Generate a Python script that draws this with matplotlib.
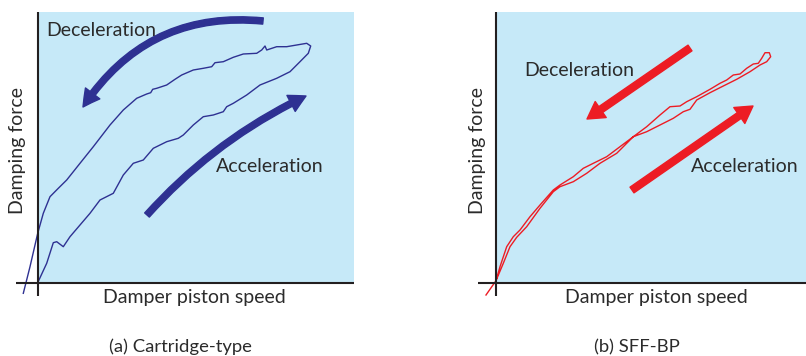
import matplotlib
matplotlib.use("Agg")
import matplotlib.pyplot as plt
from matplotlib.patches import FancyArrowPatch

# ---- data (pixel-like units relative to origin) ----
cart_x = [-14.2, -7.5, 0.2, 5.8, 12.5, 20.8, 29.2, 42.5, 55.8, 72.5, 85.8, 99.2, 109.2, 113.2, 115.2,
          119.2, 129.2, 137.5, 144.2, 155.8, 165.8, 174.2, 177.5, 185.8, 195.8, 205.8, 219.2, 224.2,
          227.5, 229.2, 239.2, 249.2, 259.2, 269.2, 273.2,
          270.8, 262.5, 252.5, 239.2, 222.5, 209.2, 195.8, 189.2, 185.8, 175.8, 165.8, 155.8, 145.8,
          140.8, 129.2, 115.8, 105.8, 95.8, 85.8, 75.8, 62.5, 52.5, 42.5, 32.5, 25.8, 19.2, 15.8, 9.2, 0.2]
cart_y = [-10.3, 16.3, 49.7, 69.7, 86.3, 94.7, 103, 119.7, 136.3, 158, 173, 184.7, 189, 190.3, 193.7,
          194.7, 198, 203.7, 208, 213, 214.7, 216.3, 220.3, 221.3, 225.7, 229, 229.7, 233,
          237, 233, 236.3, 236.3, 238, 239.7, 237,
          229.7, 221.3, 211.3, 204.7, 198, 188, 179.7, 176.3, 171.3, 168, 166.3, 158, 148,
          144.7, 141.3, 134.7, 123, 119.7, 108, 89.7, 83, 69.7, 58, 46.3, 36.3, 41.3, 40.3, 19.7, 0.3]

sff_x = [-10, 0, 7.3, 14, 20.7, 30.7, 44, 57.3, 64, 77.3, 90.7, 104, 120.7, 137.3, 150.7, 164, 177.3,
         187.3, 194, 200.7, 214, 227.3, 240.7, 254, 264, 270.7, 274.7, 273.3, 269, 265.7, 262.3,
         257.3, 250.7, 244, 237.3, 230.7, 224, 214, 200.7, 190.7, 184, 174, 164, 150.7, 137.3, 124,
         110.7, 97.3, 87.3, 77.3, 64, 57.3, 44, 34, 24, 17.3, 10.7, 4, 0]
sff_y = [-12, 2.3, 19.7, 36.3, 45.7, 56.3, 74.7, 91.3, 96.3, 101.3, 109.7, 119.7, 129.7, 146.3, 151.3,
         158, 164.7, 171.3, 173.7, 183, 190.3, 197, 203.7, 211.3, 218, 221.3, 226.3, 230.3, 230.3,
         224.7, 219.7, 219, 214.7, 209, 208, 203, 199.7, 193.7, 186.3, 181.3, 177, 176.3, 168, 156.3,
         146.3, 136.3, 126.3, 119.7, 114.7, 106.3, 98, 93, 78, 66.3, 53, 46.3, 36.3, 16.3, 2.3]

x_label = "Damper piston speed"
y_label = "Damping force"
captions = ["(a) Cartridge-type", "(b) SFF-BP"]
arrow_labels = ["Deceleration", "Acceleration"]

NAVY = "#2e3192"
RED = "#ed1c24"
BG = "#c6e9f8"
AXC = "#231f20"
TXT = "#2b2b2b"

W, H = 806, 356
plt.rcParams['font.family'] = ['Lato', 'DejaVu Sans']
fig = plt.figure(figsize=(W / 100, H / 100), dpi=100)

def add_axes(x0, x1, y0, y1):
    ax = fig.add_axes([x0 / W, 1 - y1 / H, (x1 - x0) / W, (y1 - y0) / H])
    ax.set_facecolor(BG)
    ax.set_xlim(0, x1 - x0)
    ax.set_ylim(0, y1 - y0)
    for s in ax.spines.values():
        s.set_visible(False)
    ax.set_xticks([]); ax.set_yticks([])
    return ax

def draw_axes_lines(ax, xleft, ybottom):
    xr = ax.get_xlim()[1]; yt = ax.get_ylim()[1]
    ax.plot([xleft, xr], [0, 0], color=AXC, lw=1.5, clip_on=False, zorder=5, solid_capstyle='butt')
    ax.plot([0, 0], [ybottom, yt], color=AXC, lw=1.5, clip_on=False, zorder=5, solid_capstyle='butt')

def ftxt(px, py, s, size=14, **kw):
    fig.text(px / W, 1 - py / H, s, fontsize=size, color=TXT, ha='center', va='center', **kw)

# ---- left panel ----
ax1 = add_axes(37.5, 354, 12, 283)
ax1.plot(cart_x, cart_y, color=NAVY, lw=1.0, clip_on=False, zorder=4)
draw_axes_lines(ax1, -21.5, -13)
st = "simple,head_width=13,head_length=12,tail_width=4.5"
ax1.add_patch(FancyArrowPatch((225.5, 262), (45.5, 176), connectionstyle="arc3,rad=0.3",
                              arrowstyle=st, color=NAVY, shrinkA=0, shrinkB=0, mutation_scale=1, zorder=6))
ax1.add_patch(FancyArrowPatch((109.5, 68), (268.5, 187), connectionstyle="arc3,rad=-0.1",
                              arrowstyle=st, color=NAVY, shrinkA=0, shrinkB=0, mutation_scale=1, zorder=6))

# ---- right panel ----
ax2 = add_axes(496, 806, 12, 283)
ax2.plot(sff_x, sff_y, color=RED, lw=1.0, clip_on=False, zorder=4)
draw_axes_lines(ax2, -18, -13)
st2 = "simple,head_width=14,head_length=12,tail_width=5"
ax2.add_patch(FancyArrowPatch((194, 235), (91, 164), arrowstyle=st2, color=RED,
                              shrinkA=0, shrinkB=0, mutation_scale=1, zorder=6))
ax2.add_patch(FancyArrowPatch((136, 93), (257, 177), arrowstyle=st2, color=RED,
                              shrinkA=0, shrinkB=0, mutation_scale=1, zorder=6))

# ---- texts ----
ftxt(101.5, 30, arrow_labels[0])
ftxt(270, 167, arrow_labels[1])
ftxt(579.5, 70, arrow_labels[0])
ftxt(745, 167, arrow_labels[1])
ftxt(18, 150, y_label, rotation=90)
ftxt(477, 150, y_label, rotation=90)
ftxt(194, 298, x_label)
ftxt(656, 298, x_label)
ftxt(180, 347, captions[0], size=13.3)
ftxt(637, 347, captions[1], size=13.3)

fig.savefig("out.png", dpi=100)
